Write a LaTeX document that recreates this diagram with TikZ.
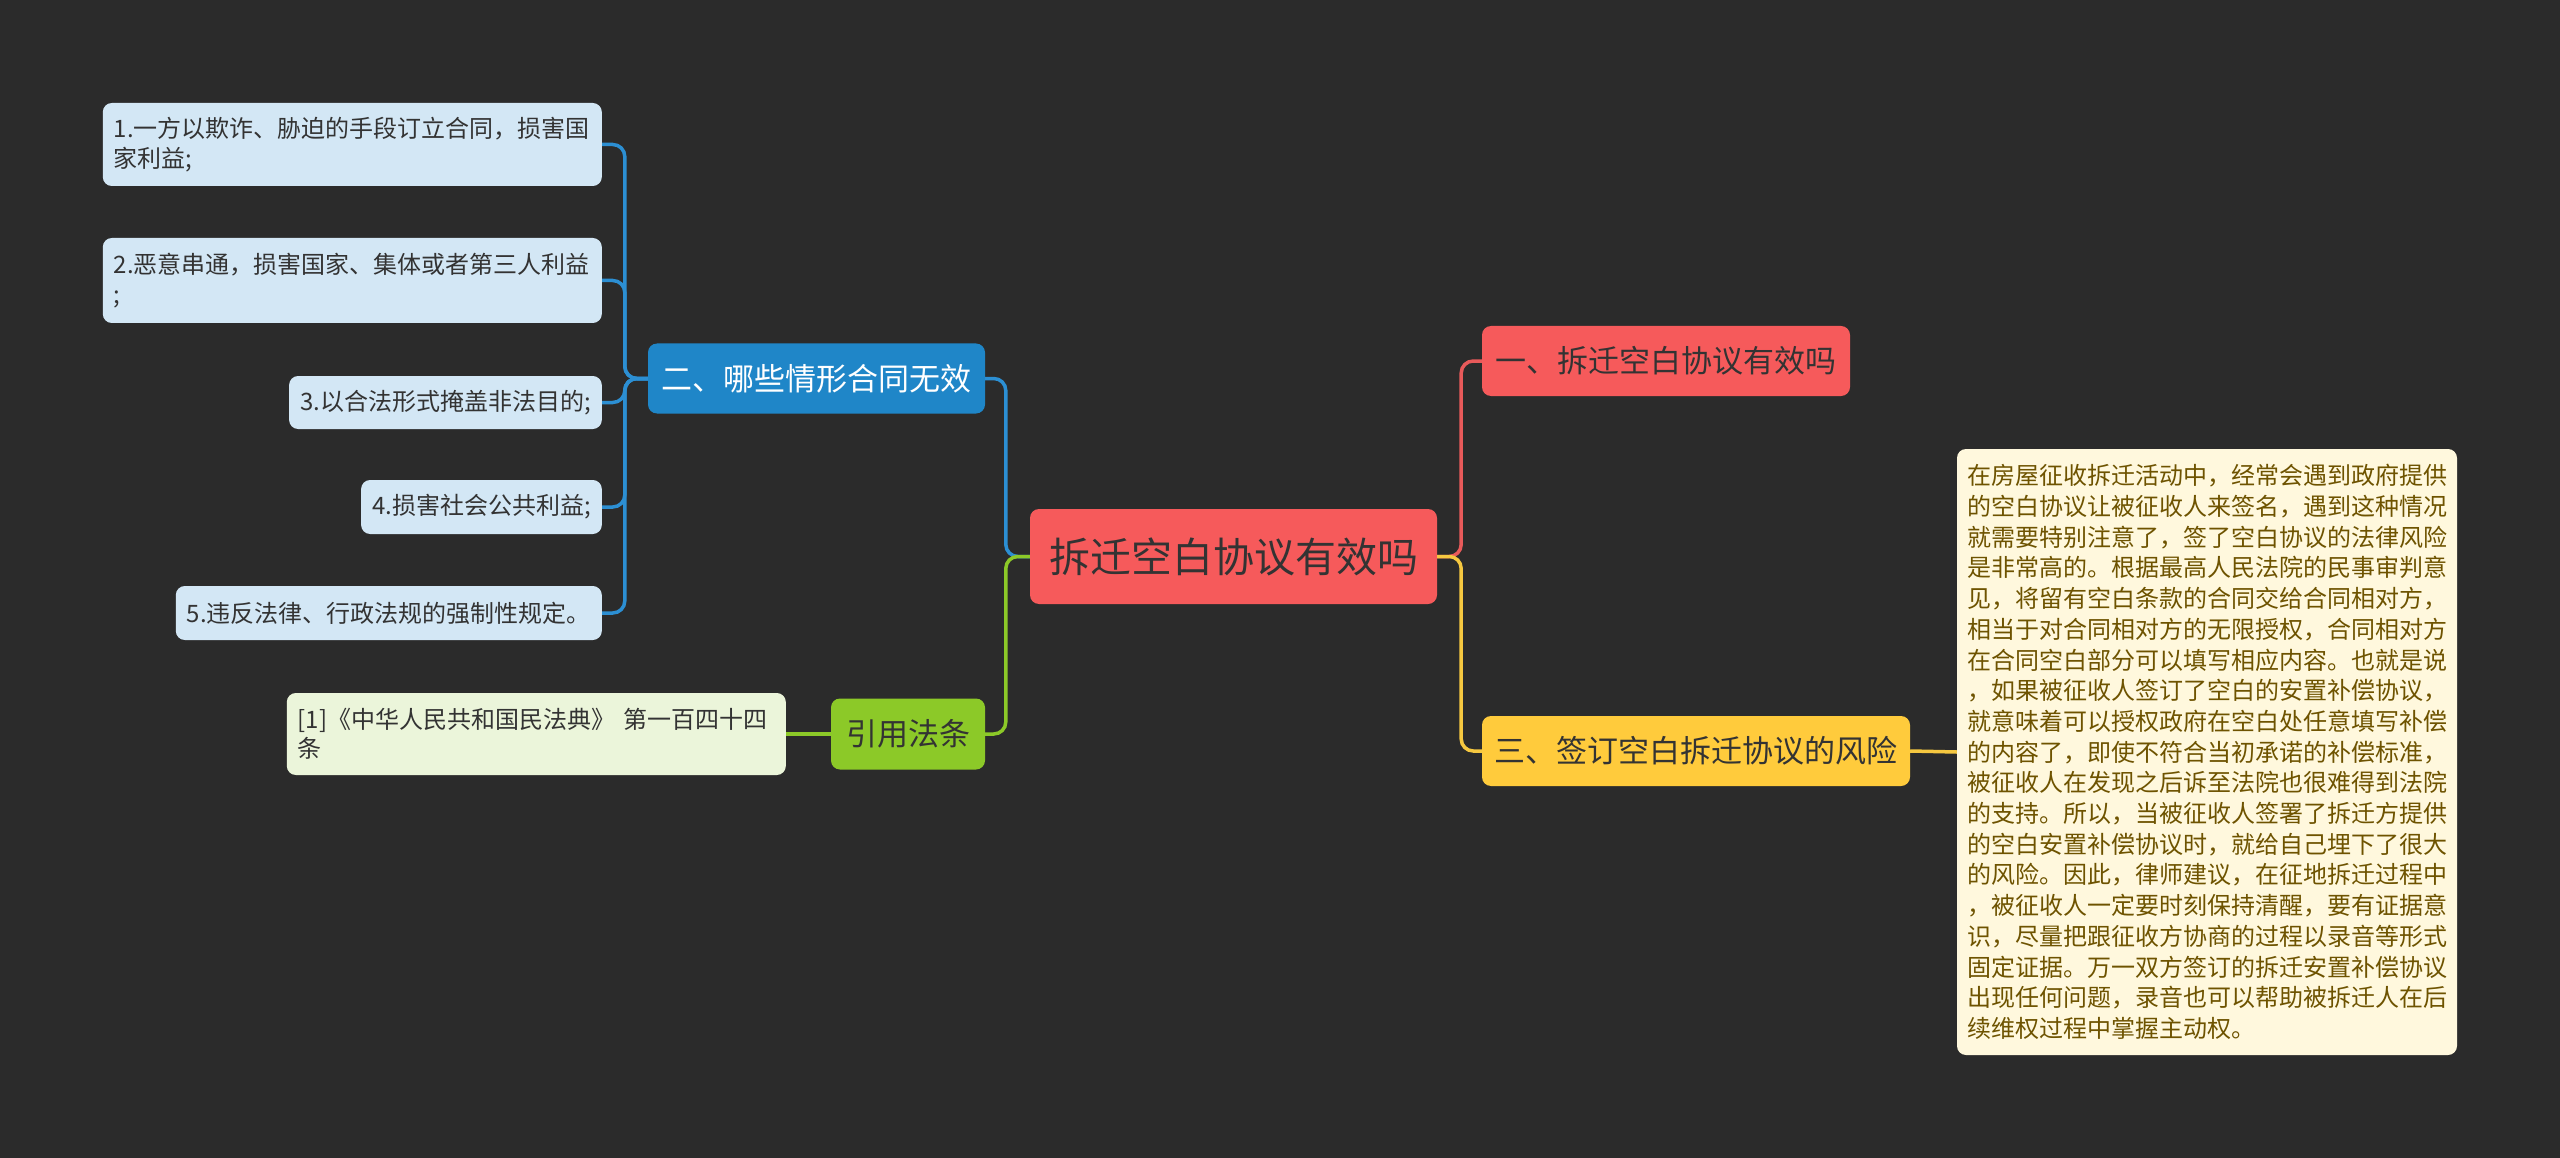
\documentclass[tikz,border=0pt]{standalone}
\usepackage{fontspec}
\setmainfont{Noto Sans CJK SC}
\definecolor{bgdark}{HTML}{2B2B2B}
\definecolor{rootred}{HTML}{F65A5B}
\definecolor{linkred}{HTML}{E85A5A}
\definecolor{nodeblue}{HTML}{1F86C8}
\definecolor{linkblue}{HTML}{2C8FD3}
\definecolor{leafblue}{HTML}{D3E7F5}
\definecolor{nodegreen}{HTML}{8CC928}
\definecolor{leafgreen}{HTML}{EBF5DA}
\definecolor{nodeyellow}{HTML}{FFCB3C}
\definecolor{linkyellow}{HTML}{F6C840}
\definecolor{notefill}{HTML}{FFF8DD}
\definecolor{notetext}{HTML}{6E5300}
\definecolor{inkdark}{HTML}{333333}
\tikzset{
  box/.style={rounded corners=9pt,inner sep=0pt,text=inkdark},
  topic/.style={box,minimum height=70pt,font=\fontsize{31}{36}\selectfont},
  leaf/.style={box,fill=leafblue,inner xsep=11pt,align=left,font=\fontsize{24}{29.5}\selectfont},
  link/.style={line width=3.5pt,rounded corners=12pt},
}
\begin{document}
\begin{tikzpicture}[x=1pt,y=-1pt]
    \fill[bgdark] (0,0) rectangle (2560,1158);
    \node[box,fill=rootred,minimum width=407pt,minimum height=95pt,font=\fontsize{41}{48}\selectfont] (root) at (1233.5,556.5) {拆迁空白协议有效吗};
    \node[topic,fill=nodeblue,text=white,minimum width=337pt] (b2) at (816.5,378.5) {二、哪些情形合同无效};
    \node[topic,fill=nodegreen,minimum width=154pt,minimum height=71pt] (law) at (908,734) {引用法条};
    \node[topic,fill=rootred,minimum width=368pt] (r1) at (1666,361) {一、拆迁空白协议有效吗};
    \node[topic,fill=nodeyellow,minimum width=428pt] (y3) at (1696,751) {三、签订空白拆迁协议的风险};
    \node[leaf,text width=477pt,minimum height=83pt,anchor=east] (l1) at (602,144.5) {1.一方以欺诈、胁迫的手段订立合同，损害国\\家利益;};
    \node[leaf,text width=477pt,minimum height=85pt,anchor=east] (l2) at (602,280.5) {2.恶意串通，损害国家、集体或者第三人利益\\;};
    \node[leaf,minimum width=310pt,minimum height=53pt,anchor=east] (l3) at (602,402.5) {3.以合法形式掩盖非法目的;};
    \node[leaf,minimum width=240pt,minimum height=54pt,anchor=east] (l4) at (602,507) {4.损害社会公共利益;};
    \node[leaf,minimum width=424pt,minimum height=54pt,anchor=east] (l5) at (602,613) {5.违反法律、行政法规的强制性规定。};
    \node[leaf,fill=leafgreen,text width=477pt,minimum height=82pt,anchor=east] (cite) at (786,734) {[1]《中华人民共和国民法典》 第一百四十四\\条};
    \node[box,fill=notefill,text=notetext,text width=480pt,inner xsep=10pt,minimum height=606pt,align=left,font=\fontsize{24}{30.7}\selectfont] (note) at (2207,752) {在房屋征收拆迁活动中，经常会遇到政府提供\\的空白协议让被征收人来签名，遇到这种情况\\就需要特别注意了，签了空白协议的法律风险\\是非常高的。根据最高人民法院的民事审判意\\见，将留有空白条款的合同交给合同相对方，\\相当于对合同相对方的无限授权，合同相对方\\在合同空白部分可以填写相应内容。也就是说\\，如果被征收人签订了空白的安置补偿协议，\\就意味着可以授权政府在空白处任意填写补偿\\的内容了，即使不符合当初承诺的补偿标准，\\被征收人在发现之后诉至法院也很难得到法院\\的支持。所以，当被征收人签署了拆迁方提供\\的空白安置补偿协议时，就给自己埋下了很大\\的风险。因此，律师建议，在征地拆迁过程中\\，被征收人一定要时刻保持清醒，要有证据意\\识，尽量把跟征收方协商的过程以录音等形式\\固定证据。万一双方签订的拆迁安置补偿协议\\出现任何问题，录音也可以帮助被拆迁人在后\\续维权过程中掌握主动权。};
    \foreach \n in {l1,l2,l3,l4,l5}
        \draw[link,linkblue] (\n.east) -| ([xshift=-23pt]b2.west) [sharp corners] -- (b2.west);
    \draw[link,linkblue] (b2.east) -| ([xshift=-24pt]root.west) [sharp corners] -- (root.west);
    \draw[link,nodegreen] (law.east) -| ([xshift=-24pt]root.west) [sharp corners] -- (root.west);
    \draw[link,nodegreen] (law.west) -- (cite.east);
    \draw[link,linkred] (r1.west) -| ([xshift=24pt]root.east) [sharp corners] -- (root.east);
    \draw[link,linkyellow] (y3.west) -| ([xshift=24pt]root.east) [sharp corners] -- (root.east);
    \draw[link,linkyellow] (y3.east) -- (note.west);
\end{tikzpicture}
\end{document}
